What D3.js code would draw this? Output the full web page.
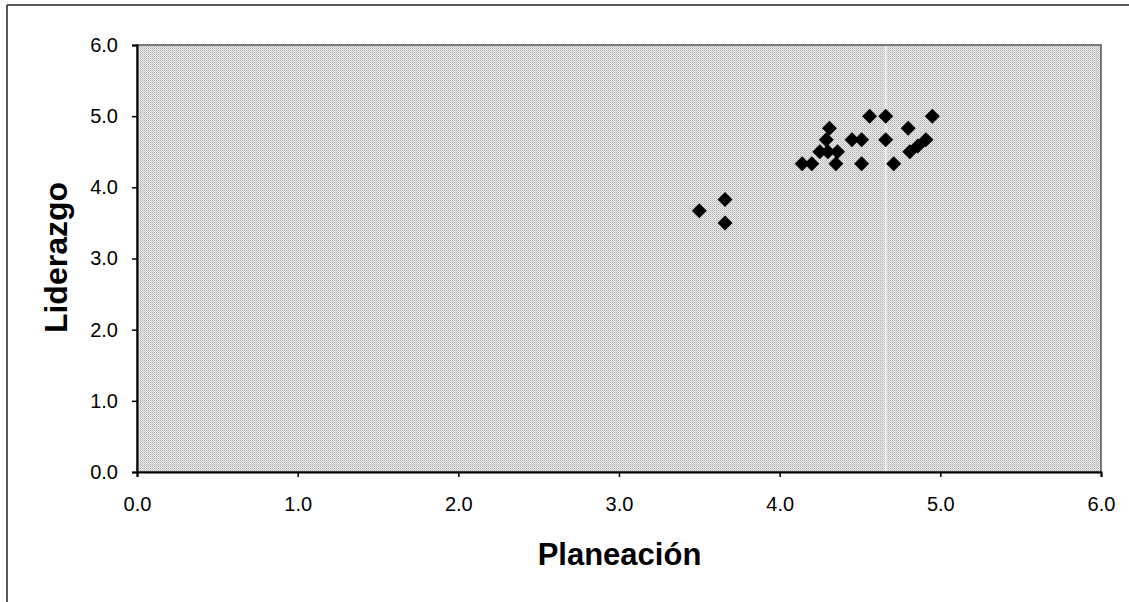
<!DOCTYPE html>
<html>
<head>
<meta charset="utf-8">
<script src="https://cdn.jsdelivr.net/npm/d3@7"></script>
<style>
  html, body { margin: 0; padding: 0; background: #ffffff; }
  svg { display: block; }
  text { font-family: "Liberation Sans", Arial, Helvetica, sans-serif; fill: #000; }
</style>
</head>
<body>
<svg id="chart" width="1129" height="602"></svg>
<script>
// Data: Planeación (x) vs Liderazgo (y)
const planeacion = [3.50, 3.66, 3.66, 4.31, 4.29, 4.45, 4.51, 4.25, 4.30, 4.36,
                    4.14, 4.20, 4.35, 4.51, 4.56, 4.66, 4.95, 4.80, 4.66, 4.91,
                    4.86, 4.81, 4.71];
const liderazgo  = [3.67, 3.83, 3.50, 4.83, 4.67, 4.67, 4.67, 4.50, 4.50, 4.50,
                    4.33, 4.33, 4.33, 4.33, 5.00, 5.00, 5.00, 4.83, 4.67, 4.67,
                    4.58, 4.50, 4.33];
const xTicks = [0, 1, 2, 3, 4, 5, 6];
const yTicks = [0, 1, 2, 3, 4, 5, 6];
const xTitle = "Planeación";
const yTitle = "Liderazgo";

(function () {
const svg = d3.select("#chart");
const mLeft = 137, mRight = 1101, mTop = 45, mBottom = 472;

const x = d3.scaleLinear().domain([0, 6]).range([mLeft, mRight]);
const y = d3.scaleLinear().domain([0, 6]).range([mBottom, mTop]);

// outer frame (scan edges)
svg.append("line").attr("x1", 7).attr("y1", 5).attr("x2", 1129).attr("y2", 5)
  .attr("stroke", "#222").attr("stroke-width", 1.5);
svg.append("line").attr("x1", 7).attr("y1", 5).attr("x2", 7).attr("y2", 602)
  .attr("stroke", "#222").attr("stroke-width", 1.5);

// plot background with stipple pattern
const defs = svg.append("defs");
const pat = defs.append("pattern").attr("id", "dots")
  .attr("width", 2).attr("height", 2).attr("patternUnits", "userSpaceOnUse");
pat.append("rect").attr("width", 2).attr("height", 2).attr("fill", "#ebebeb");
pat.append("rect").attr("width", 1).attr("height", 1).attr("fill", "#b2b2b2");
pat.append("rect").attr("x", 1).attr("y", 1).attr("width", 1).attr("height", 1).attr("fill", "#c9c9c9");

svg.append("rect")
  .attr("x", mLeft).attr("y", mTop)
  .attr("width", mRight - mLeft).attr("height", mBottom - mTop)
  .attr("fill", "url(#dots)")
  .attr("stroke", "#555").attr("stroke-width", 1.5);

// faint light streak from the scanned original
svg.append("line").attr("x1", x(4.66)).attr("x2", x(4.66))
  .attr("y1", mTop + 1).attr("y2", mBottom - 1)
  .attr("stroke", "#fafafa").attr("stroke-width", 2).attr("opacity", 0.8);

// axes
const xAxis = d3.axisBottom(x).tickValues(xTicks).tickSize(5).tickPadding(20)
  .tickFormat(d3.format(".1f"));
const gx = svg.append("g").attr("transform", `translate(0,${mBottom})`).call(xAxis);
gx.select(".domain").attr("stroke", "#000").attr("stroke-width", 2);
gx.selectAll(".tick line").attr("stroke", "#000").attr("stroke-width", 1.5);
gx.selectAll(".tick text").attr("font-size", 20)
  .attr("font-family", "Liberation Sans, Arial, sans-serif");

const yAxis = d3.axisLeft(y).tickValues(yTicks).tickSize(5).tickPadding(14)
  .tickFormat(d3.format(".1f"));
const gy = svg.append("g").attr("transform", `translate(${mLeft},0)`).call(yAxis);
gy.select(".domain").attr("stroke", "#000").attr("stroke-width", 2);
gy.selectAll(".tick line").attr("stroke", "#000").attr("stroke-width", 1.5);
gy.selectAll(".tick text").attr("font-size", 20)
  .attr("font-family", "Liberation Sans, Arial, sans-serif");

// points (diamonds)
const pts = planeacion.map((v, i) => ({ x: v, y: liderazgo[i] }));
const diamond = d3.symbol().type(d3.symbolSquare).size(112);
svg.append("g").selectAll("path").data(pts).join("path")
  .attr("d", diamond)
  .attr("transform", d => `translate(${x(d.x)},${y(d.y)}) rotate(45)`)
  .attr("fill", "#000");

// axis titles
svg.append("text").attr("x", 619.5).attr("y", 565)
  .attr("text-anchor", "middle").attr("font-size", 31).attr("font-weight", "bold")
  .text(xTitle);
svg.append("text").attr("transform", "translate(67,257.5) rotate(-90)")
  .attr("text-anchor", "middle").attr("font-size", 32).attr("font-weight", "bold")
  .text(yTitle);
})();
</script>
</body>
</html>
